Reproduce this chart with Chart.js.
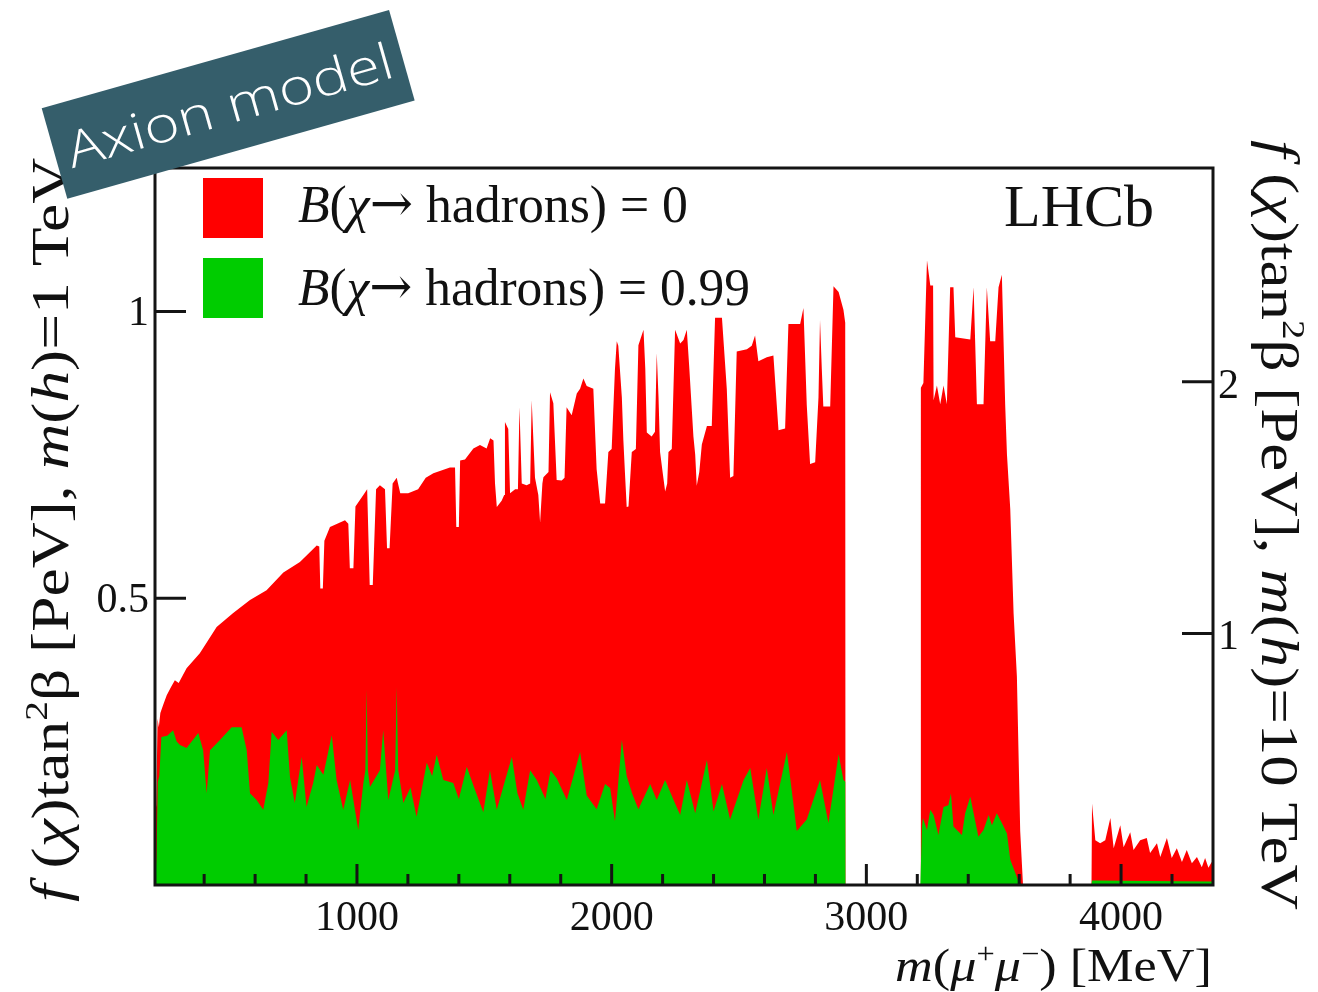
<!DOCTYPE html>
<html><head><meta charset="utf-8">
<script src="https://cdn.jsdelivr.net/npm/chart.js@4.4.0/dist/chart.umd.min.js"></script>
<style>html,body{margin:0;padding:0;background:#fff;}canvas{display:block;}</style>
</head><body>
<canvas id="c" width="1318" height="992"></canvas>
<script>
// ---- data (m(mu+mu-) in MeV, limits in PeV) ----
const redMass = [207,212,217,222,228,240,253,270,285,300,331,383,449,514,580,645,711,776,842,852,856,866,872,894,953,966,972,986,994,1025,1040,1050,1062,1075,1090,1110,1118,1128,1140,1156,1170,1201,1240,1270,1300,1365,1385,1390,1400,1405,1424,1457,1483,1509,1523,1536,1542,1549,1568,1578,1581,1594,1601,1621,1632,1638,1647,1666,1680,1686,1699,1712,1719,1728,1732,1752,1758,1771,1784,1804,1815,1823,1843,1863,1876,1889,1902,1928,1941,1955,1974,1987,2000,2013,2020,2026,2040,2046,2052,2059,2066,2079,2095,2105,2125,2132,2138,2157,2170,2177,2184,2190,2200,2210,2218,2223,2236,2249,2269,2282,2295,2305,2321,2328,2334,2344,2354,2374,2393,2406,2433,2452,2465,2478,2491,2531,2550,2563,2576,2609,2635,2655,2681,2694,2740,2753,2766,2779,2799,2812,2818,2825,2831,2858,2871,2891,2910,2917,2918,
  3212,3214,3224,3238,3251,3262,3264,3277,3290,3303,3316,3329,3342,3349,3408,3421,3427,3434,3460,3473,3486,3506,3519,3532,3545,3552,3565,3578,3591,3604,3615,
  3884,3886,3899,3918,3938,3958,3971,3997,4010,4036,4049,4075,4101,4114,4141,4154,4180,4199,4219,4239,4258,4278,4298,4317,4330,4343,4356,4361];
const redVal = [0.12,0.14,0.29,0.275,0.30,0.315,0.331,0.345,0.357,0.352,0.378,0.404,0.45,0.474,0.497,0.514,0.545,0.563,0.592,0.59,0.517,0.517,0.60,0.624,0.636,0.63,0.552,0.552,0.66,0.68,0.69,0.523,0.523,0.69,0.697,0.69,0.587,0.587,0.70,0.71,0.683,0.683,0.69,0.71,0.718,0.728,0.728,0.624,0.624,0.74,0.742,0.761,0.767,0.761,0.779,0.775,0.70,0.659,0.67,0.68,0.807,0.795,0.683,0.69,0.69,0.833,0.70,0.697,0.70,0.845,0.71,0.68,0.632,0.70,0.711,0.72,0.859,0.84,0.706,0.705,0.71,0.833,0.819,0.857,0.865,0.883,0.87,0.865,0.725,0.665,0.665,0.755,0.76,0.90,0.948,0.94,0.85,0.775,0.72,0.659,0.66,0.755,0.76,0.941,0.968,0.9,0.789,0.782,0.79,0.927,0.85,0.755,0.72,0.686,0.70,0.755,0.76,0.968,0.944,0.95,0.968,0.90,0.782,0.75,0.696,0.72,0.768,0.80,0.80,0.989,0.989,0.865,0.71,0.713,0.93,0.934,0.94,0.958,0.913,0.92,0.923,0.793,0.796,0.978,0.978,1.006,0.837,0.734,0.737,0.85,0.985,0.9,0.834,0.834,1.044,1.034,1.003,0.98,0,
  0,0.867,0.875,1.089,1.045,1.045,0.845,0.871,0.838,0.871,0.838,1.042,1.042,0.955,0.951,1.042,0.95,0.838,0.838,1.042,0.948,0.948,1.042,1.064,0.838,0.751,0.655,0.474,0.364,0.094,0,
  0,0.142,0.078,0.073,0.078,0.117,0.064,0.104,0.066,0.092,0.061,0.078,0.082,0.056,0.073,0.049,0.082,0.047,0.064,0.04,0.061,0.038,0.049,0.031,0.047,0.03,0.04,0.035];

const greenMass = [207,213,218,224,232,255,278,292,305,331,377,396,410,423,462,508,547,567,580,606,632,652,665,691,724,737,756,783,802,828,842,868,901,920,946,973,1005,1025,1033,1038,1043,1051,1090,1103,1123,1150,1156,1162,1182,1210,1234,1274,1295,1313,1339,1378,1400,1431,1460,1496,1522,1549,1580,1608,1630,1653,1680,1706,1740,1760,1784,1824,1850,1876,1902,1941,1974,1994,2013,2040,2059,2080,2105,2151,2177,2210,2243,2269,2295,2328,2374,2400,2433,2465,2518,2544,2576,2609,2635,2688,2727,2766,2818,2851,2891,2910,2917,2918,
  3212,3218,3222,3238,3251,3264,3283,3303,3322,3332,3342,3362,3375,3388,3408,3421,3440,3460,3480,3493,3512,3532,3552,3565,3585,3597,3611,
  3884,3886,4100,4361];
const greenVal = [0,0.05,0.18,0.19,0.258,0.26,0.27,0.25,0.244,0.239,0.265,0.235,0.16,0.235,0.253,0.275,0.275,0.235,0.16,0.148,0.131,0.178,0.267,0.253,0.27,0.188,0.143,0.223,0.136,0.178,0.209,0.192,0.261,0.183,0.131,0.183,0.096,0.178,0.2,0.341,0.2,0.171,0.2,0.27,0.148,0.2,0.345,0.2,0.143,0.17,0.119,0.213,0.19,0.227,0.183,0.178,0.15,0.206,0.17,0.127,0.2,0.131,0.18,0.223,0.16,0.131,0.2,0.183,0.15,0.2,0.186,0.148,0.19,0.232,0.156,0.132,0.176,0.169,0.111,0.253,0.19,0.16,0.132,0.176,0.148,0.183,0.148,0.122,0.183,0.125,0.218,0.128,0.176,0.114,0.183,0.204,0.114,0.204,0.122,0.232,0.094,0.114,0.183,0.108,0.228,0.183,0.18,0,
  0,0.10,0.117,0.096,0.131,0.122,0.087,0.136,0.139,0.16,0.102,0.093,0.087,0.125,0.154,0.125,0.084,0.096,0.122,0.104,0.125,0.108,0.09,0.044,0.021,0.006,0,
  0,0.008,0.007,0.006];

const xMajor = [1000,2000,3000,4000];
const xLabels = ['1000','2000','3000','4000'];
const xMinor = [400,600,800,1200,1400,1600,1800,2200,2400,2600,2800,3200,3400,3600,3800,4200];
const yTicks = [0.5,1];
const yLabels = ['0.5','1'];
const y2Ticks = [1,2];
const y2Labels = ['1','2'];
const seriesNames = ['B(χ→ hadrons) = 0','B(χ→ hadrons) = 0.99'];

const SERIF = '"Liberation Serif","DejaVu Serif",serif';
function fontFor(s,size){const sz=s.sup?size*0.62:size;return (s.it?'italic ':'')+sz+'px '+(s.fam||SERIF);}
function richW(ctx,segs,size){let w=0;for(const s of segs){ctx.font=fontFor(s,size);w+=ctx.measureText(s.t).width;}return w;}
function drawRich(ctx,segs,x,y,ang,size,targetW,align){
  const w=richW(ctx,segs,size); const sx=targetW?targetW/w:1;
  ctx.save();ctx.translate(x,y);ctx.rotate(ang);ctx.scale(sx,1);
  ctx.textAlign='left';ctx.textBaseline='alphabetic';
  let cx=align==='right'?-w:0;
  for(const s of segs){ctx.font=fontFor(s,size);ctx.fillText(s.t,cx,s.sup?-size*0.4:(s.dy||0));cx+=ctx.measureText(s.t).width;}
  ctx.restore();
}
const titleL=[{t:'f',it:1},{t:' ('},{t:'χ',it:1},{t:')tan'},{t:'2',sup:1},{t:'β [PeV], '},{t:'m',it:1},{t:'('},{t:'h',it:1},{t:')=1 TeV'}];
const titleR=[{t:'f',it:1},{t:' ('},{t:'χ',it:1},{t:')tan'},{t:'2',sup:1},{t:'β [PeV], '},{t:'m',it:1},{t:'('},{t:'h',it:1},{t:')=10 TeV'}];
const titleX=[{t:'m',it:1},{t:'('},{t:'μ',it:1},{t:'+',sup:1},{t:'μ',it:1},{t:'−',sup:1},{t:') [MeV]'}];
function legSegs(name){const i=name.indexOf('→');return [{t:'B',it:1},{t:'('},{t:'χ',it:1},{t:'→',fam:'"DejaVu Serif",serif',dy:-1},{t:name.slice(i+1).replace(' = ',' = ')}];}

const deco = {
  id:'deco',
  beforeDraw(chart){const c=chart.ctx;c.save();c.fillStyle='#fff';c.fillRect(0,0,chart.width,chart.height);c.restore();},
  afterDatasetsDraw(chart){
    const c=chart.ctx, a=chart.chartArea, sx=chart.scales.x, sy=chart.scales.y, sy2=chart.scales.y2;
    c.save(); c.strokeStyle='#141414'; c.lineWidth=3; c.lineCap='butt';
    c.beginPath();
    xMajor.forEach(v=>{const p=sx.getPixelForValue(v);c.moveTo(p,a.bottom);c.lineTo(p,a.bottom-21);});
    xMinor.forEach(v=>{const p=sx.getPixelForValue(v);c.moveTo(p,a.bottom);c.lineTo(p,a.bottom-11);});
    yTicks.forEach(v=>{const p=sy.getPixelForValue(v);c.moveTo(a.left,p);c.lineTo(a.left+31,p);});
    y2Ticks.forEach(v=>{const p=sy2.getPixelForValue(v);c.moveTo(a.right,p);c.lineTo(a.right-31,p);});
    c.stroke();
    c.strokeRect(a.left,a.top,a.right-a.left,a.bottom-a.top);
    c.restore();
  },
  afterDraw(chart){
    const c=chart.ctx, a=chart.chartArea, sx=chart.scales.x, sy=chart.scales.y, sy2=chart.scales.y2;
    c.save(); c.fillStyle='#111';
    c.font='42px '+SERIF; c.textBaseline='alphabetic';
    c.textAlign='center';
    xMajor.forEach((v,i)=>c.fillText(xLabels[i],sx.getPixelForValue(v),930));
    c.textAlign='right';
    yTicks.forEach((v,i)=>c.fillText(yLabels[i],a.left-6,sy.getPixelForValue(v)+14));
    c.textAlign='left';
    y2Ticks.forEach((v,i)=>c.fillText(y2Labels[i],a.right+5,sy2.getPixelForValue(v)+16));
    // axis titles
    drawRich(c,titleL,68,902,-Math.PI/2,52,744);
    drawRich(c,titleR,1262,140,Math.PI/2,52,770);
    drawRich(c,titleX,1212,981,0,46,317,'right');
    // legend
    const cols=[chart.data.datasets[1].backgroundColor, chart.data.datasets[0].backgroundColor];
    c.fillStyle=cols[0]; c.fillRect(203,178,60,60);
    c.fillStyle=cols[1]; c.fillRect(203,258,60,60);
    c.fillStyle='#111';
    drawRich(c,legSegs(seriesNames[0]),298,222,0,52,390);
    drawRich(c,legSegs(seriesNames[1]),298,305,0,52,452);
    // LHCb
    c.font='60px '+SERIF; c.textAlign='left'; c.fillText('LHCb',1004,226);
    // banner
    c.translate(41.7,108.3); c.rotate(-15.8*Math.PI/180);
    c.fillStyle='#355e6b'; c.fillRect(0,0,361,94);
    c.fillStyle='#ffffff'; c.font='300 50px "Open Sans","Noto Sans",sans-serif';
    const tw=c.measureText('Axion model').width;
    c.translate(13,66); c.scale(337/tw,1); c.textAlign='left'; c.fillText('Axion model',0,0);
    c.restore();
  }
};

const pts=(xs,ys)=>xs.map((x,i)=>({x:x,y:ys[i]}));
new Chart(document.getElementById('c'),{
  type:'line',
  data:{datasets:[
    {label:seriesNames[1],data:pts(greenMass,greenVal),backgroundColor:'#00cc00',borderColor:'#00cc00',borderWidth:0,fill:'origin',pointRadius:0,tension:0,order:0},
    {label:seriesNames[0],data:pts(redMass,redVal),backgroundColor:'#ff0000',borderColor:'#ff0000',borderWidth:0,fill:'origin',pointRadius:0,tension:0,order:1}
  ]},
  options:{
    responsive:false, animation:false, parsing:true,
    layout:{padding:{top:168,left:0,right:0,bottom:0}},
    plugins:{legend:{display:false},tooltip:{enabled:false}},
    scales:{
      x:{type:'linear',min:207,max:4361,ticks:{display:false},grid:{display:false},border:{display:false},afterFit(s){s.height=107;}},
      y:{type:'linear',position:'left',min:0,max:1.25,ticks:{display:false},grid:{display:false},border:{display:false},afterFit(s){s.width=155;}},
      y2:{type:'linear',position:'right',min:0,max:2.85,ticks:{display:false},grid:{display:false},border:{display:false},afterFit(s){s.width=105;}}
    }
  },
  plugins:[deco]
});
</script>
</body></html>
